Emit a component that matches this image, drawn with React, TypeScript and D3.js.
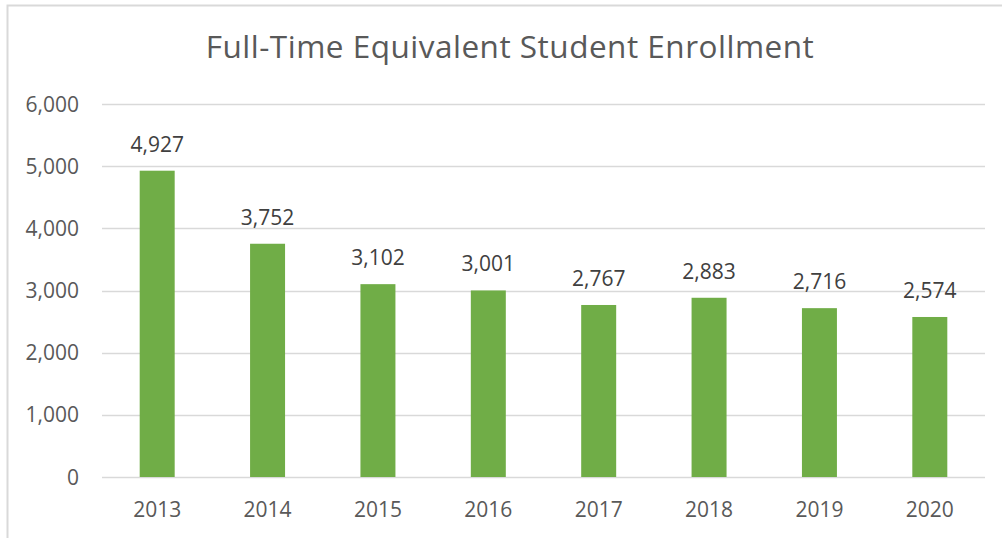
import * as d3 from "d3";
import { useEffect, useRef } from "react";

// Chart values
const years: string[] = ["2013", "2014", "2015", "2016", "2017", "2018", "2019", "2020"];
const enrollment: number[] = [4927, 3752, 3102, 3001, 2767, 2883, 2716, 2574];
const yTicks: number[] = [0, 1000, 2000, 3000, 4000, 5000, 6000];

const W = 1002;
const H = 538;
const FONT = "'Open Sans', sans-serif";

export default function App() {
  const svgRef = useRef<SVGSVGElement>(null);

  useEffect(() => {
    if (!svgRef.current) return;
    const svg = d3.select(svgRef.current);
    svg.selectAll("*").remove();

    const left = 102;
    const right = 985;
    const top = 104;
    const bottom = 477;

    // chart frame
    svg
      .append("rect")
      .attr("x", 7.5)
      .attr("y", 5.5)
      .attr("width", 1010)
      .attr("height", 560)
      .attr("fill", "#fff")
      .attr("stroke", "#D9D9D9")
      .attr("stroke-width", 2);

    svg
      .append("text")
      .attr("x", 510)
      .attr("y", 58)
      .attr("text-anchor", "middle")
      .attr("font-family", FONT)
      .attr("font-size", "31.5px")
      .attr("letter-spacing", "0.5px")
      .attr("fill", "#595959")
      .text("Full-Time Equivalent Student Enrollment");

    const x = d3
      .scaleBand<string>()
      .domain(years)
      .range([left, right])
      .paddingInner(0.683)
      .paddingOuter(0.3415);

    const y = d3.scaleLinear().domain([0, 6000]).range([bottom, top]);

    const fmt = d3.format(",");

    // gridlines
    svg
      .append("g")
      .selectAll("line")
      .data(yTicks)
      .enter()
      .append("line")
      .attr("x1", left)
      .attr("x2", right)
      .attr("y1", (d) => Math.round(y(d)) + 0.5)
      .attr("y2", (d) => Math.round(y(d)) + 0.5)
      .attr("stroke", "#D9D9D9")
      .attr("stroke-width", 1.5);

    // y tick labels
    svg
      .append("g")
      .selectAll("text")
      .data(yTicks)
      .enter()
      .append("text")
      .attr("x", 79)
      .attr("y", (d) => y(d) + 7.5)
      .attr("text-anchor", "end")
      .attr("font-family", FONT)
      .attr("font-size", "21px")
      .attr("fill", "#595959")
      .text((d) => fmt(d));

    // bars
    svg
      .append("g")
      .selectAll("rect")
      .data(enrollment)
      .enter()
      .append("rect")
      .attr("x", (_, i) => x(years[i])!)
      .attr("y", (d) => y(d))
      .attr("width", x.bandwidth())
      .attr("height", (d) => bottom - y(d))
      .attr("fill", "#70AD47");

    // data labels
    svg
      .append("g")
      .selectAll("text")
      .data(enrollment)
      .enter()
      .append("text")
      .attr("x", (_, i) => x(years[i])! + x.bandwidth() / 2)
      .attr("y", (d) => y(d) - 19)
      .attr("text-anchor", "middle")
      .attr("font-family", FONT)
      .attr("font-size", "21px")
      .attr("fill", "#404040")
      .text((d) => fmt(d));

    // x labels
    svg
      .append("g")
      .selectAll("text")
      .data(years)
      .enter()
      .append("text")
      .attr("x", (d) => x(d)! + x.bandwidth() / 2)
      .attr("y", 517)
      .attr("text-anchor", "middle")
      .attr("font-family", FONT)
      .attr("font-size", "21px")
      .attr("fill", "#595959")
      .text((d) => d);
  }, []);

  return (
    <svg
      ref={svgRef}
      width={W}
      height={H}
      style={{ position: "absolute", left: 0, top: 0, background: "#fff" }}
    />
  );
}
